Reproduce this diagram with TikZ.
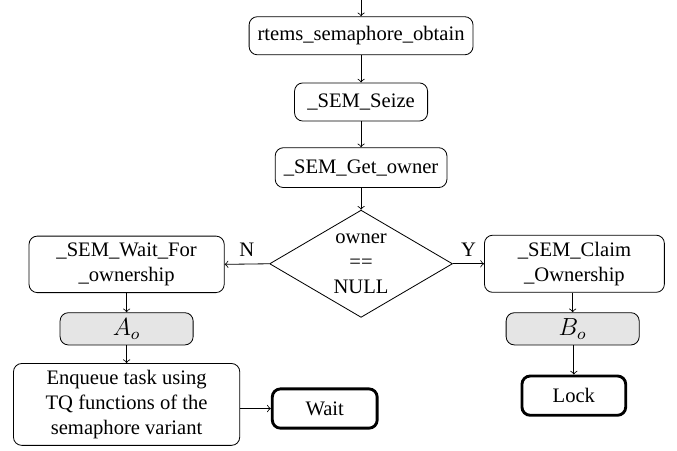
\documentclass[tikz,border=0pt]{standalone}
\usepackage{fontspec}
\setmainfont{Liberation Serif}
\usetikzlibrary{shapes.geometric}

\begin{document}
\begin{tikzpicture}[
	procbox/.style={draw, rounded corners, minimum height=0.65cm, align=center},
	shadebox/.style={procbox, fill=gray!20, minimum width=2.27cm, minimum height=0.55cm, inner ysep=1pt, font=\large},
	statebox/.style={procbox, line width=1.4pt, minimum height=0.67cm},
	condbox/.style={draw, diamond, aspect=1.7, inner sep=0pt, minimum width=3.12cm, minimum height=1.83cm, align=center}
	]
			\useasboundingbox (0,0) rectangle (11.55,-7.69);

			\coordinate (start) at (6.16,0);
			\node[procbox, minimum width=3.82cm] (obtain) at (6.16,-0.61){rtems\_semaphore\_obtain};
			\node[procbox, minimum width=2.27cm] (seize) at (6.16,-1.74){\_SEM\_Seize};
			\node[procbox, minimum width=2.93cm, minimum height=0.68cm] (getowner) at (6.16,-2.86){\_SEM\_Get\_owner};
			\node[condbox] (cond) at (6.16,-4.50){owner\\==\\NULL};

			\node[procbox, minimum width=3.33cm, minimum height=0.94cm] (waitfor) at (2.16,-4.51){\_SEM\_Wait\_For\\\_ownership};
			\node[shadebox] (Ao) at (2.16,-5.61){$A_o$};
			\node[procbox, minimum width=3.86cm, minimum height=1.25cm] (enqueue) at (2.16,-6.90){Enqueue task using\\TQ functions of the\\semaphore variant};
			\node[statebox, minimum width=1.79cm] (wait) at (5.54,-6.97){Wait};

			\node[procbox, minimum width=3.07cm, minimum height=0.96cm] (claim) at (9.80,-4.50){\_SEM\_Claim\\\_Ownership};
			\node[shadebox] (Bo) at (9.77,-5.61){$B_o$};
			\node[statebox, minimum width=1.77cm] (lock) at (9.79,-6.75){Lock};

			\draw[->] (start) -- (obtain);
			\draw[->] (obtain) -- (seize);
			\draw[->] (seize) -- (getowner);
			\draw[->] (getowner) -- (cond);
			\draw[->] (cond.west) -- node[above]{N} (waitfor.east);
			\draw[->] (cond.east) -- node[above]{Y} (claim.west);
			\draw[->] (waitfor) -- (Ao);
			\draw[->] (Ao) -- (enqueue);
			\draw[->] (enqueue.east |- wait.west) -- (wait.west);
			\draw[->] (claim.south -| Bo.north) -- (Bo.north);
			\draw[->] (Bo.south -| lock.north) -- (lock.north);
		\end{tikzpicture}
\end{document}
